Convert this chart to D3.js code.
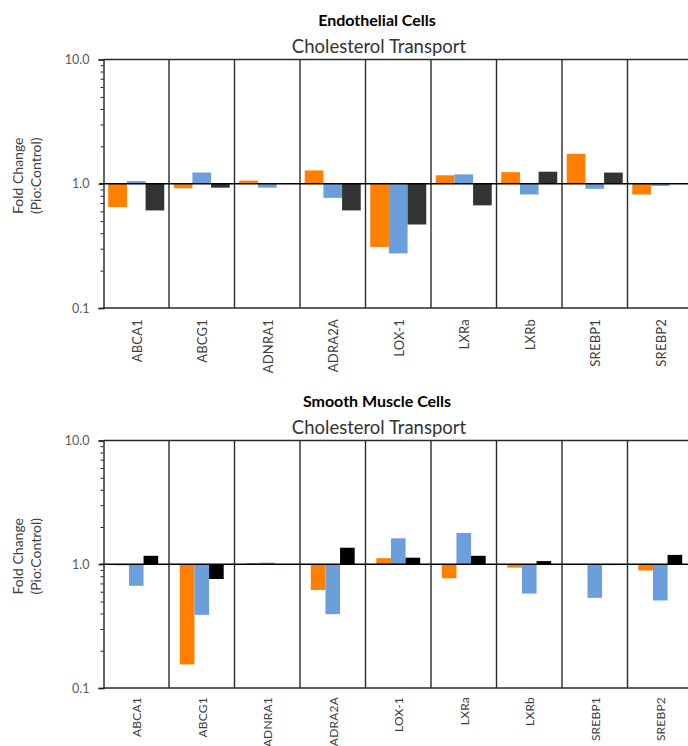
<!DOCTYPE html>
<html><head><meta charset="utf-8">
<script src="https://cdn.jsdelivr.net/npm/d3@7"></script>
<style>
html,body{margin:0;padding:0;background:#fff;overflow:hidden}
svg{display:block}
text{font-family:Lato,"Open Sans",sans-serif}
</style></head>
<body>
<svg id="c" width="688" height="746"></svg>
<script>
const categories = ["ABCA1","ABCG1","ADNRA1","ADRA2A","LOX-1","LXRa","LXRb","SREBP1","SREBP2"];
const seriesNames = ["s1","s2","s3"];
// Endothelial cells
const endoOrange = [0.65,0.92,1.06,1.28,0.31,1.17,1.24,1.74,0.82];
const endoBlue   = [1.05,1.23,0.93,0.77,0.275,1.19,0.82,0.91,0.96];
const endoDark   = [0.61,0.93,1.01,0.61,0.47,0.67,1.25,1.23,1.0];
// Smooth muscle cells
const smcOrange = [0.98,0.155,1.02,0.62,1.12,0.77,0.94,0.99,0.89];
const smcBlue   = [0.67,0.39,1.03,0.395,1.62,1.79,0.58,0.535,0.51];
const smcDark   = [1.17,0.76,0.99,1.36,1.13,1.17,1.06,0.985,1.19];
const majorTicks = [0.1,1,10];
const minorTicks = [0.2,0.3,0.4,0.5,0.6,0.7,0.8,0.9,2,3,4,5,6,7,8,9];
const titles = [["Endothelial Cells","Cholesterol Transport"],["Smooth Muscle Cells","Cholesterol Transport"]];
const yTitle = ["Fold Change","(Pio:Control)"];

const svg = d3.select("#c");

function panel(cfg){
  const g = svg.append("g");
  const x = d3.scaleBand().domain(categories).range([cfg.left, cfg.left + 9*65.5]);
  const bw = x.bandwidth();
  const xs = d3.scaleBand().domain(seriesNames)
     .range([(bw - bw*cfg.groupFrac)/2, (bw + bw*cfg.groupFrac)/2]);
  const y = d3.scaleLog().domain([0.1,10]).range([cfg.bottom, cfg.top]);

  // titles
  g.append("text").attr("x",377).attr("y",cfg.top-34).attr("text-anchor","middle")
   .attr("font-size",16).attr("font-weight","bold").attr("fill","#000").text(cfg.title[0]);
  g.append("text").attr("x",379).attr("y",cfg.top-7).attr("text-anchor","middle")
   .attr("font-size",18.5).attr("fill","#333").text(cfg.title[1]);

  // y title
  const yc = (cfg.top + cfg.bottom)/2 - 8;
  g.append("text").attr("transform",`translate(23,${yc}) rotate(-90)`).attr("text-anchor","middle")
   .attr("font-size",14).attr("fill","#404040").text(yTitle[0]);
  g.append("text").attr("transform",`translate(41,${yc}) rotate(-90)`).attr("text-anchor","middle")
   .attr("font-size",14).attr("fill","#404040").text(yTitle[1]);

  // bars
  const data = categories.map((c,i)=>({c, v:[cfg.s1[i],cfg.s2[i],cfg.s3[i]]}));
  const grp = g.selectAll("g.cat").data(data).enter().append("g")
     .attr("transform",d=>`translate(${x(d.c)},0)`);
  grp.selectAll("rect").data(d=>d.v.map((v,j)=>({k:seriesNames[j],v}))).enter().append("rect")
     .attr("x",d=>xs(d.k)).attr("width",xs.bandwidth())
     .attr("y",d=>Math.min(y(d.v),y(1))).attr("height",d=>Math.abs(y(d.v)-y(1)))
     .attr("fill",(d,j)=>cfg.colors[j]);

  // vertical separators
  g.selectAll("line.sep").data(categories.slice(1).concat(["__end"])).enter().append("line")
   .attr("x1",(d,i)=>x.range()[0] + (i+1)*bw).attr("x2",(d,i)=>x.range()[0] + (i+1)*bw)
   .attr("y1",cfg.top).attr("y2",cfg.bottom).attr("stroke","#2a2a2a").attr("stroke-width",1.4);
  // top and bottom borders
  [cfg.top,cfg.bottom].forEach(yy=>{
    g.append("line").attr("x1",cfg.left).attr("x2",cfg.left+9*bw).attr("y1",yy).attr("y2",yy)
     .attr("stroke","#2a2a2a").attr("stroke-width",1.4);
  });
  // baseline at 1.0
  g.append("line").attr("x1",cfg.left-4).attr("x2",cfg.left+9*bw).attr("y1",y(1)).attr("y2",y(1))
   .attr("stroke","#000").attr("stroke-width",1.5);

  // y axis
  const ya = g.append("g").attr("transform",`translate(${cfg.left},0)`)
    .call(d3.axisLeft(y).tickValues(majorTicks).tickFormat(d3.format(".1f")).tickSize(5).tickPadding(9));
  ya.select(".domain").attr("stroke","#222").attr("stroke-width",1.4);
  ya.selectAll(".tick line").attr("stroke","#222").attr("stroke-width",1.3);
  ya.selectAll(".tick text").attr("font-size",12.5).attr("fill","#595959")
    .attr("font-family","Lato,'Open Sans',sans-serif");
  const ym = g.append("g").attr("transform",`translate(${cfg.left},0)`)
    .call(d3.axisLeft(y).tickValues(minorTicks).tickFormat("").tickSize(3));
  ym.select(".domain").remove();
  ym.selectAll(".tick line").attr("stroke","#222").attr("stroke-width",1);

  // category labels
  const xa = g.append("g").attr("transform",`translate(0,${cfg.bottom})`)
    .call(d3.axisBottom(x).tickSize(0).tickPadding(0));
  xa.select(".domain").remove();
  xa.selectAll(".tick text").attr("transform",`translate(1,${cfg.labelGap}) rotate(-90)`)
    .attr("text-anchor","end").attr("dy","0.35em").attr("x",0).attr("y",0)
    .attr("font-size",cfg.labelSize).attr("letter-spacing","0.2px").attr("fill","#404040")
    .attr("font-family","Lato,'Open Sans',sans-serif");
}

panel({top:59.5,bottom:308,left:103.5,groupFrac:0.855,title:titles[0],labelGap:11,labelSize:13,
  s1:endoOrange,s2:endoBlue,s3:endoDark,colors:["#FF7F00","#6A9FDB","#333333"]});
panel({top:440.5,bottom:688,left:103.5,groupFrac:0.67,title:titles[1],labelGap:9,labelSize:12,
  s1:smcOrange,s2:smcBlue,s3:smcDark,colors:["#FF7F00","#6A9FDB","#000000"]});
</script>
</body></html>
